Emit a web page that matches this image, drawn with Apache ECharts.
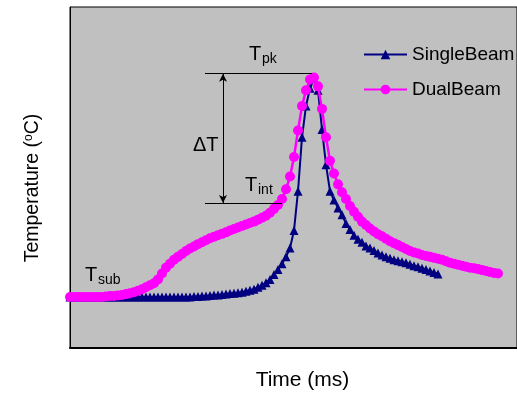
<!DOCTYPE html>
<html>
<head>
<meta charset="utf-8">
<script src="https://cdn.jsdelivr.net/npm/echarts@6/dist/echarts.min.js"></script>
<style>
  html, body { margin: 0; padding: 0; background: #fff; }
  #chart { width: 517px; height: 396px; }
</style>
</head>
<body>
<div id="chart"></div>
<script>
// samples every 0.04 ms, temperatures
const timeStepMs = 0.04
const singleBeam = [
  52, 52, 52, 52, 52, 52, 52, 52, 52, 52, 52, 52, 52, 52, 52, 52, 52, 52, 52, 52,
  52, 52, 52, 52, 52, 52, 52, 52, 52, 52, 52, 52.5, 52.5, 53, 53, 53.5, 54, 54, 54.5, 55,
  55.5, 56, 56.5, 57, 58, 59, 60, 62, 64, 66.5, 70, 75, 80, 86, 93, 102, 120, 160, 215, 247,
  265, 275, 263, 223, 187, 160, 151, 143, 136, 127, 121, 115, 111, 108, 104, 102, 99.5, 97, 95, 93,
  91.5, 90, 89, 88, 87, 85.5, 84, 83, 81.5, 80, 78.5, 77, 75.5
]
const dualBeam = [
  52, 52, 52, 52, 52, 52, 52, 52, 52, 52.5, 53, 53, 53.5, 54, 55, 56, 57, 58.5, 60, 62,
  64, 66, 70, 76, 82, 86, 90, 93, 96, 99, 101.5, 103.5, 106, 108, 110, 112, 113.5, 115, 116.5, 118,
  120, 121.5, 123, 124.5, 126, 127.5, 129, 131, 133, 135, 138, 142, 146, 152, 162, 175, 195, 222, 247, 263,
  274, 276, 267, 244, 215, 191, 178, 167, 159, 152, 145, 139, 134, 129, 125.5, 122, 119, 116, 114, 111.5,
  109, 107, 105, 103, 101, 99, 97.5, 96.5, 95, 94, 93, 92, 91, 90, 88.5, 87, 86, 85, 84, 83,
  82, 81.5, 80.5, 79.5, 78.5, 77.5, 76.5, 76
]
const legendNames = ['SingleBeam', 'DualBeam']

// annotation levels (T_pk, T_int) and where the guide lines sit on the time axis
const tPeak = 280
const tInt = 148
const guideStartMs = 1.35
const peakGuideEndMs = 2.42
const intGuideEndMs = 2.12
const deltaArrowMs = 1.53

const FONT = 'Liberation Sans, Arial, sans-serif'

function toPairs(values) {
  return values.map((v, i) => [i * timeStepMs, v])
}

const chart = echarts.init(document.getElementById('chart'), null, { renderer: 'canvas' })

function label(x, y, main, sub) {
  return [
    { type: 'text', left: x, top: y, style: { text: main, font: '20px ' + FONT, fill: '#000' } },
    { type: 'text', left: x + 13, top: y + 8, style: { text: sub, font: '14px ' + FONT, fill: '#000' } }
  ]
}

const option = {
  animation: false,
  backgroundColor: '#fff',
  textStyle: { fontFamily: FONT, color: '#000' },
  grid: {
    left: 70,
    top: 7,
    right: 0,
    bottom: 41,
    show: true,
    backgroundColor: '#c0c0c0',
    borderColor: '#000',
    borderWidth: 1
  },
  legend: {
    data: legendNames,
    orient: 'vertical',
    left: 358,
    top: 40,
    itemWidth: 43,
    itemHeight: 12,
    itemGap: 16,
    textStyle: { fontSize: 19, color: '#000', fontFamily: FONT }
  },
  xAxis: {
    type: 'value',
    min: 0,
    max: 4.47,
    name: 'Time (ms)',
    nameLocation: 'middle',
    nameGap: 22,
    nameTextStyle: { fontSize: 21, color: '#000', fontFamily: FONT, padding: [0, 0, 0, 18] },
    axisLine: { show: true, onZero: false, lineStyle: { color: '#000', width: 2 } },
    axisTick: { show: false },
    axisLabel: { show: false },
    splitLine: { show: false }
  },
  yAxis: {
    type: 'value',
    min: 0,
    max: 348,
    axisLine: { show: true, lineStyle: { color: '#000', width: 1 } },
    axisTick: { show: false },
    axisLabel: { show: false },
    splitLine: { show: false }
  },
  graphic: [
    {
      type: 'text',
      x: 33,
      y: 188,
      rotation: Math.PI / 2,
      style: {
        text: 'Temperature ({s|o}C)',
        font: '19.5px ' + FONT,
        fill: '#000',
        align: 'center',
        verticalAlign: 'middle',
        rich: {
          s: { fontSize: 12, verticalAlign: 'top', fontFamily: FONT, fill: '#000' }
        }
      }
    },
    ...label(249, 44, 'T', 'pk'),
    ...label(245, 175, 'T', 'int'),
    ...label(85, 265, 'T', 'sub'),
    { type: 'text', left: 193, top: 135, style: { text: '\u0394T', font: '20px ' + FONT, fill: '#000' } }
  ],
  series: [
    {
      name: 'SingleBeam',
      type: 'line',
      data: toPairs(singleBeam),
      symbol: 'triangle',
      symbolSize: 9,
      showAllSymbol: true,
      lineStyle: { color: '#000080', width: 2 },
      itemStyle: { color: '#000080' },
      z: 2
    },
    {
      name: 'DualBeam',
      type: 'line',
      data: toPairs(dualBeam),
      symbol: 'circle',
      symbolSize: 10,
      showAllSymbol: true,
      lineStyle: { color: '#ff00ff', width: 2.5 },
      itemStyle: { color: '#ff00ff' },
      z: 3,
      markLine: {
        silent: true,
        symbol: 'none',
        label: { show: false },
        lineStyle: { color: '#000', width: 1, type: 'solid' },
        data: [
          [{ coord: [guideStartMs, tPeak] }, { coord: [peakGuideEndMs, tPeak] }],
          [{ coord: [guideStartMs, tInt] }, { coord: [intGuideEndMs, tInt] }],
          [
            { coord: [deltaArrowMs, tInt], symbol: 'arrow', symbolSize: [6, 8] },
            { coord: [deltaArrowMs, tPeak], symbol: 'arrow', symbolSize: [6, 8] }
          ]
        ]
      }
    }
  ]
}

chart.setOption(option)
</script>
</body>
</html>
